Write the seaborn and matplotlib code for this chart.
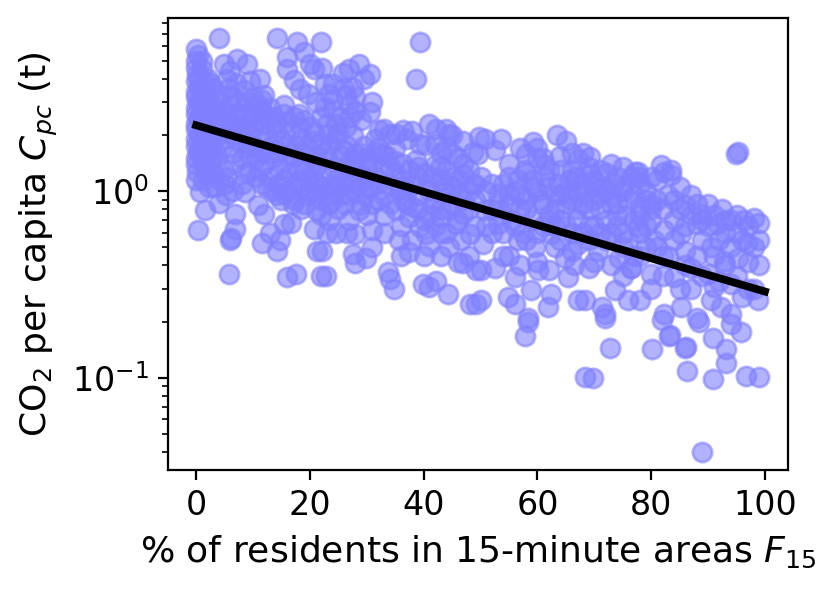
import numpy as np
import pandas as pd
import matplotlib
matplotlib.use("Agg")
import matplotlib.pyplot as plt
import seaborn as sns

# ---- data (x = % residents in 15-min areas, y = CO2 per capita, t) ----
f15_a = [0, 0.3, 4.0, 4.9, 6.0, 7.2, 9.0, 11.3, 11.6, 2.5, 4.2, 8.4, 9.5, 10.8,
         0, 0, 0.2, 0, 0.5, 0, 0, 0.4, 0, 0, 0.3, 0, 0, 0.5, 0, 0, 0.3, 0, 0, 0.2, 0, 0.7, 0.4,
         1, 1.5, 1.2, 2, 1, 2.2, 1.5, 1, 2.5, 1.8, 1.2, 2.8, 1.4, 1.9, 1.6, 2.5, 3.4, 3,
         3.7, 4, 4.9, 5.5, 4.5, 5, 6, 6.6, 7.8, 6.9, 6.9, 6, 6.2, 5.8, 7, 7.5, 3.5, 5.8, 8, 8.5, 4.5,
         9.5, 9.3, 8.6, 10.8, 12, 11.6, 10, 11, 9, 11, 12, 12.5, 10.5, 12.5, 12.5, 11.5, 9.8, 12]
co2_a = [5.8, 5.4, 6.6, 4.8, 4.4, 5.1, 4.8, 4.0, 3.1, 3.8, 3.3, 3.5, 3.9, 2.9,
         5.0, 4.6, 4.2, 3.9, 3.6, 3.4, 3.2, 3.0, 2.8, 2.6, 2.45, 2.3, 2.15, 2.0, 1.9, 1.75, 1.6, 1.5, 1.4, 1.27, 1.15, 0.99, 0.62,
         4.5, 3.9, 3.5, 3.2, 2.9, 2.7, 2.5, 2.25, 2.1, 1.95, 1.8, 1.7, 1.4, 1.24, 0.79, 1.3, 1.05, 1.55,
         1.52, 0.87, 1.3, 2.6, 2.2, 1.9, 2.9, 1.4, 1.8, 0.76, 0.63, 0.55, 0.56, 0.36, 2.3, 3.0, 2.8, 3.6, 2.0, 2.6, 1.7,
         1.59, 1.27, 0.99, 0.84, 0.76, 0.53, 2.2, 2.4, 1.7, 1.9, 2.3, 1.05, 1.2, 2.5, 2.03, 1.6, 2.8, 3.3]
# extra points in the dense blob at low F15
f15_a2 = [0.5, 1, 2, 3, 3.5, 2, 1, 0.5, 2.5, 3.2, 4, 5, 5.5, 6.5, 7, 7.5, 8, 8.5, 9, 9.5, 10, 10.5, 11,
          11.5, 10, 8.8, 7.2, 6, 5, 4, 3, 2, 1.5, 0.8, 3.8, 4.5, 6.3, 3, 2, 1, 5.5, 7, 9.5, 11.5, 12,
          6.5, 5.2, 8, 2.2, 1.2]
co2_a2 = [4.0, 3.3, 3.0, 2.5, 2.0, 1.6, 1.55, 1.7, 1.45, 1.25, 1.15, 1.1, 1.2, 1.6, 1.9, 2.2, 1.5, 1.25, 2.3,
          2.0, 1.75, 1.5, 1.3, 2.7, 3.2, 3.0, 2.6, 2.4, 2.3, 2.0, 1.85, 2.3, 2.0, 2.6, 3.1, 2.7, 3.2, 3.6, 4.0,
          5.0, 4.0, 3.8, 2.5, 1.1, 1.4, 1.0, 0.95, 1.1, 1.05, 1.15]

f15_b = [14.3, 17.8, 21.9, 16, 19, 16, 20, 20.8, 17.2, 19.6, 18.3, 22.6, 22.6, 19, 20.8, 21.9, 22.2,
         13.7, 15.5, 17.2, 18.3, 13.7, 16, 17.2, 14, 15, 16.5, 14.5, 15.5, 16.5, 17.5, 18.5, 19.6, 20.5,
         21.5, 22.5, 23.5, 24.5, 19, 20, 21, 23, 24, 18, 13,
         13, 14.3, 14.8, 14.3, 15.5, 16.6, 16, 17.5, 21.3, 21.9, 20.7, 15.5, 17.2, 21, 21.9, 22.2, 22.8,
         23.4, 23.4, 18.5, 19.5, 24.5]
co2_b = [6.6, 6.3, 6.3, 5.25, 5.6, 4.5, 4.8, 4.5, 3.95, 3.33, 3.55, 3.77, 2.83, 2.41, 2.08, 1.8, 4.6,
         2.5, 2.6, 2.5, 2.2, 1.52, 1.8, 1.52, 2.1, 1.9, 2.1, 1.3, 1.15, 1.25, 1.1, 1.05, 1.15, 1.25,
         1.1, 1.2, 1.05, 1.15, 1.6, 1.4, 1.55, 1.5, 1.35, 1.3, 1.2,
         0.6, 0.48, 0.55, 0.95, 0.67, 0.68, 0.345, 0.36, 0.48, 0.35, 0.63, 0.97, 0.9, 0.79, 0.9, 0.48, 0.35,
         0.7, 0.855, 0.8, 0.95, 0.6]
f15_b2 = [13, 13.5, 14.5, 15.5, 16.5, 17.5, 18.5, 19.5, 20.5, 21.5, 22.5, 23.5, 24.5, 25.5, 26.5, 27.5,
          28.5, 29.5, 13.5, 14.5, 15, 16, 17, 18, 19, 20, 21, 22, 23, 24, 25, 26, 27, 28, 29, 25, 22, 19,
          14, 16, 18, 20, 22, 23, 25, 27, 21, 24, 26, 28, 15.5, 13, 30, 29, 28, 30, 26.5, 23]
co2_b2 = [1.6, 1.8, 1.65, 1.45, 1.6, 1.75, 1.9, 1.75, 1.85, 1.4, 1.6, 1.8, 1.9, 1.55, 1.75, 1.3,
          1.1, 1.2, 1.0, 1.1, 0.9, 1.0, 0.85, 1.15, 1.3, 1.0, 0.95, 1.05, 0.95, 0.9, 1.05, 1.1, 0.95, 1.0, 0.85, 0.8, 0.75, 0.85,
          2.3, 2.35, 2.6, 2.2, 2.5, 2.3, 2.05, 2.5, 3.0, 3.1, 3.6, 2.7, 2.9, 2.8, 1.5, 1.6, 1.45, 0.75, 0.6, 0.6]

f15_c = [28.7, 30.5, 26.9, 25.8, 24, 23.4, 26.3, 28, 26.9, 30.5, 24, 24.5, 26.3, 23.4, 27.5, 32.2,
         34, 36.3, 35.1, 39.3, 38.6, 31, 29, 25.5, 27.5, 29.5,
         28, 25.8, 31.6, 32.8, 36.3, 38.6, 39.3, 40.4, 26, 27, 28.5, 30, 30.2, 31.5, 33, 34, 35, 36.5,
         37.5, 39, 33.5, 29.5, 27,
         28, 31, 27.5, 29.8, 28, 33.7, 34, 34.8, 37.5, 35.7, 26.9, 28.7, 32.2, 35.1, 37.5, 39.3, 25.8,
         30.5, 35.7, 38.1, 33, 31, 26, 36.5, 39, 29.5]
co2_c = [4.83, 4.27, 4.54, 4.3, 3.77, 3.33, 3.28, 3.2, 2.9, 2.66, 2.73, 2.3, 2.2, 2.03, 2.0, 2.13,
         2.03, 2.13, 2.03, 6.3, 4.0, 3.0, 2.4, 2.5, 3.6, 4.0,
         1.59, 1.66, 1.62, 1.59, 1.4, 1.47, 1.8, 1.77, 1.3, 1.15, 1.25, 1.35, 1.08, 1.2, 1.3, 1.1, 1.25, 1.15,
         1.3, 1.2, 1.55, 1.75, 1.45,
         0.59, 0.62, 0.46, 0.44, 0.41, 0.37, 0.34, 0.3, 0.47, 0.545, 0.7, 0.79, 0.9, 0.79, 0.725, 0.64, 0.97,
         1.05, 1.01, 0.82, 0.75, 0.85, 0.85, 0.9, 0.95, 0.95]
f15_c2 = [31, 32, 33, 34, 35, 36, 37, 38, 39, 40, 41, 42, 43, 44, 45, 46, 47, 48, 49, 41, 43, 45, 39, 37,
          34, 36, 38, 40, 42, 44, 46, 49, 33, 31, 32, 35, 37, 38, 33, 31.5, 46, 44, 42, 48, 47, 45,
          36, 40, 43, 46, 48]
co2_c2 = [1.4, 1.1, 0.95, 1.35, 1.45, 1.05, 1.0, 1.1, 1.35, 1.25, 1.0, 0.9, 1.15, 1.0, 1.05, 1.15, 0.9, 0.8, 1.1,
          0.75, 0.8, 0.85, 0.8, 0.85, 0.85, 0.65, 0.55, 0.7, 0.65, 0.6, 0.7, 0.65, 0.6, 0.5, 1.7, 1.7, 1.9, 2.1,
          2.15, 1.9, 1.5, 1.7, 1.8, 1.3, 1.85, 2.0, 0.45, 0.45, 0.45, 0.42, 0.45]

f15_d = [41, 42.2, 43.9, 44.5, 49.8, 45.2, 47, 48.7, 42.2, 49.6, 50.7, 43,
         42.8, 45.2, 47, 48.7, 41.6, 44.5, 47, 40.5, 43.5, 46, 49, 50, 41.5, 44, 50.7, 48,
         39.9, 42.2, 41, 44.3, 49.2, 48.1, 41, 44.5, 47, 49.2, 42.8, 45.7, 48.1, 40.4, 43, 46.5,
         50.4, 50, 50]
co2_d = [2.3, 2.16, 2.16, 2.03, 1.95, 1.59, 1.4, 1.62, 1.4, 1.59, 1.91, 1.6,
         1.35, 1.19, 1.24, 1.09, 0.855, 0.79, 0.76, 1.1, 1.05, 0.95, 0.9, 1.19, 1.2, 1.3, 0.79, 1.0,
         0.32, 0.33, 0.305, 0.28, 0.25, 0.25, 0.51, 0.5, 0.415, 0.376, 0.725, 0.67, 0.59, 0.59, 0.6, 0.55,
         0.52, 0.376, 0.26]

f15_e = [53.6, 52.5, 59.3, 58, 63.5, 61.3, 57.8, 64.2, 55, 60,
         56.6, 59.6, 61.3, 63.7, 53.1, 53.1, 55, 57, 58, 60.5, 62, 63, 65, 54, 61, 64, 65.5, 55.5, 59, 52, 57.5,
         56.6, 59.6, 62.4, 64.8, 52.5, 56, 54.9, 56, 58.9, 60.1, 58.4, 62.4, 61.9, 65.4, 58.4, 57.8, 54, 63]
co2_e = [1.91, 1.66, 1.83, 1.59, 2.0, 1.38, 1.3, 1.3, 1.4, 1.5,
         1.15, 1.05, 1.19, 1.09, 0.97, 0.67, 0.85, 0.95, 0.8, 0.9, 0.75, 0.95, 0.85, 1.1, 0.65, 0.7, 1.15, 0.7, 0.7, 0.8, 0.6,
         0.545, 0.5, 0.59, 0.44, 0.39, 0.345, 0.27, 0.25, 0.294, 0.376, 0.21, 0.28, 0.24, 0.345, 0.2, 0.168, 0.45, 0.5]
f15_e2 = [51, 52, 53, 54, 55, 56, 57, 58, 59, 60, 61, 62, 63, 64, 65, 66, 67, 68, 69, 70, 71, 72, 73, 74, 75,
          76, 77, 78, 79, 80,
          51, 52, 54, 56, 58, 60, 62, 63, 64, 65, 66, 67, 68, 69, 70, 71, 73, 74, 75, 76, 77, 78, 79, 80,
          55, 57, 60, 62, 66, 70, 73, 75, 77, 79,
          55, 58, 61, 62, 64, 66, 67, 69, 70, 72, 74, 75, 78, 80, 60, 65, 68, 57]
co2_e2 = [1.0, 1.1, 0.85, 0.75, 0.95, 1.0, 0.8, 0.9, 1.15, 1.0, 0.85, 1.05, 0.8, 0.95, 1.0, 0.9, 1.0, 0.85, 0.8,
          1.05, 0.95, 1.0, 0.95, 0.85, 1.0, 0.9, 0.95, 0.75, 0.9, 0.8,
          0.65, 0.6, 0.6, 0.65, 0.55, 0.6, 0.7, 0.65, 0.55, 0.65, 0.6, 0.7, 0.6, 0.55, 0.65, 0.6, 0.6, 0.75,
          0.6, 0.55, 0.7, 0.6, 0.65, 0.7,
          0.45, 0.4, 0.42, 0.38, 0.48, 0.42, 0.4, 0.35, 0.45, 0.5,
          1.2, 1.25, 1.5, 1.3, 1.55, 1.3, 1.2, 1.35, 1.15, 1.25, 1.2, 1.35, 1.1, 1.2, 1.7, 1.85, 1.6, 1.7]

f15_f = [67.2, 69.3, 77.2, 77.6, 66, 71, 73,
         66.6, 68.4, 69.5, 73, 74.8, 76.5, 77.6, 78.1, 79.9, 77.6, 67, 70, 71.5, 72, 74, 75.5, 69, 68, 71, 73.5, 79,
         67.2, 69, 70.7, 74.3, 76.5, 68.4, 67.2, 71.3, 71.9, 73.7, 76, 76.4, 79.9, 78.1, 72.8, 68.4, 69.8,
         71.9, 72, 75, 78, 66.5]
co2_f = [1.49, 1.52, 1.27, 1.27, 1.6, 1.3, 1.4,
         1.15, 0.97, 1.24, 0.855, 1.05, 1.19, 1.19, 0.82, 0.85, 0.64, 0.8, 0.9, 1.05, 0.7, 0.65, 0.75, 0.65, 1.1, 0.8, 1.1, 1.0,
         0.52, 0.39, 0.48, 0.44, 0.39, 0.26, 0.26, 0.24, 0.22, 0.294, 0.26, 0.39, 0.36, 0.26, 0.145, 0.101, 0.1,
         0.21, 0.55, 0.5, 0.45, 0.4]

f15_g = [94.9, 95.2, 81.7, 83.4, 82.2,
         83.4, 81, 84, 86, 88.7, 88, 91.6, 94, 96.3, 96.9, 82.2, 85.2, 99, 87, 90, 92.5, 95, 98, 85, 89, 93,
         95.2, 92.8, 90.5, 84, 87, 91, 94, 98.7, 82.2, 85.2, 88, 90.5, 94, 92.2, 81.9, 88.4, 83.1, 83.3,
         80.2, 86, 86.2, 90.8, 93.1, 93.1, 86.3, 90.8, 96.7, 99, 88.9, 94, 95.8, 97, 82, 86, 80.5]
co2_g = [1.59, 1.62, 1.38, 1.3, 1.27,
         1.22, 1.15, 0.9, 0.84, 0.76, 0.67, 0.67, 0.7, 0.7, 0.53, 0.62, 0.59, 0.68, 0.95, 0.85, 0.8, 0.75, 0.72, 1.05, 0.55, 0.6,
         0.44, 0.425, 0.5, 0.345, 0.39, 0.305, 0.32, 0.26, 0.22, 0.24, 0.21, 0.26, 0.22, 0.24, 0.205, 0.2, 0.168, 0.17,
         0.142, 0.145, 0.146, 0.164, 0.142, 0.12, 0.109, 0.098, 0.102, 0.101, 0.04, 0.193, 0.175, 0.3, 0.45, 0.48, 0.55]
f15_g2 = [81, 82, 83, 84, 85, 86, 87, 88, 89, 90, 91, 92, 93, 94, 95, 96, 97, 98, 99, 81, 83, 84, 86, 88,
          89, 91, 93, 95, 97, 99, 82, 85, 87, 90, 92, 96, 98, 80]
co2_g2 = [0.9, 0.8, 0.95, 0.7, 0.8, 0.65, 0.75, 0.85, 0.7, 0.65, 0.75, 0.55, 0.7, 0.5, 0.6, 0.55, 0.65, 0.5, 0.55,
          0.5, 0.45, 0.55, 0.4, 0.45, 0.35, 0.45, 0.4, 0.35, 0.42, 0.4, 0.35, 0.3, 0.3, 0.36, 0.33, 0.27, 0.3, 0.3]

# fitted trend line (end points)
fit_x = [0, 100]
fit_y = [2.26, 0.29]

df = pd.DataFrame({
    "f15": f15_a + f15_a2 + f15_b + f15_b2 + f15_c + f15_c2 + f15_d + f15_e + f15_e2 + f15_f + f15_g + f15_g2,
    "co2": co2_a + co2_a2 + co2_b + co2_b2 + co2_c + co2_c2 + co2_d + co2_e + co2_e2 + co2_f + co2_g + co2_g2,
})
fit = pd.DataFrame({"f15": fit_x, "co2": fit_y})

plt.rcParams["font.family"] = ["DejaVu Sans"]

# small figure at 200 dpi -> 835 x 590 px
fig = plt.figure(figsize=(4.175, 2.95), dpi=200)
ax = fig.add_axes([168 / 835, 1 - 470 / 590, 620 / 835, 452 / 590])

sns.scatterplot(data=df, x="f15", y="co2", ax=ax, s=48, color="#8080ff",
                edgecolor="#8080ff", linewidth=1.0, alpha=0.6)
sns.lineplot(data=fit, x="f15", y="co2", ax=ax, color="black", linewidth=2.8)

ax.set_yscale("log")
ax.set_xlim(-4.95, 104.05)
ax.set_ylim(0.032, 8.5)
ax.set_xticks([0, 20, 40, 60, 80, 100])
ax.tick_params(labelsize=12)
ax.set_xlabel("% of residents in 15-minute areas $F_{15}$", fontsize=13)
ax.set_ylabel("CO$_2$ per capita $C_{pc}$ (t)", fontsize=13)

fig.savefig("out.png", dpi=200)
